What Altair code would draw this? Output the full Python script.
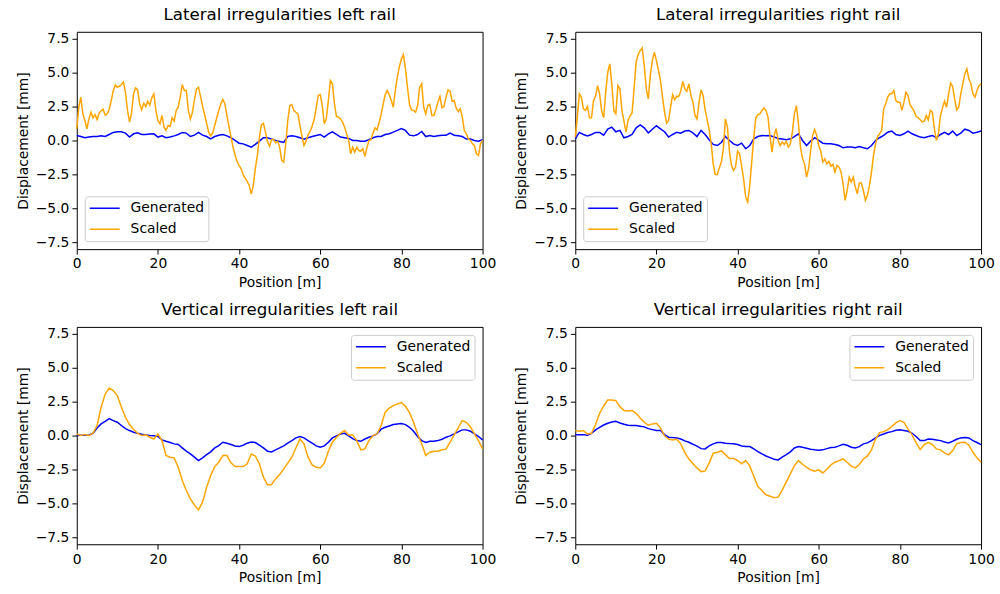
import altair as alt
import pandas as pd

# Sampling positions [m]
POS_HALF = [i / 2 for i in range(201)]
POS_ONE = list(range(101))

LAT_LEFT_SCALED = [
    0.86, 2.45, 3.19, 1.96, 1.47, 0.86, 1.59, 2.08, 1.67, 1.91,
    1.54, 2.01, 2.18, 2.30, 1.86, 1.96, 2.30, 2.94, 3.68, 4.09,
    3.92, 3.99, 4.12, 4.29, 3.55, 2.21, 1.35, 2.01, 3.43, 3.87,
    3.72, 2.70, 2.25, 2.74, 2.50, 2.89, 2.60, 3.16, 3.43, 2.21,
    1.47, 1.23, 1.84, 0.98, 0.74, 1.10, 1.03, 1.67, 1.42, 2.21,
    2.45, 3.19, 4.12, 3.68, 3.68, 2.21, 1.57, 2.08, 3.01, 3.80,
    3.92, 3.24, 2.52, 1.91, 1.27, 0.61, 0.34, 0.56, 1.10, 1.67,
    2.21, 2.70, 3.01, 2.70, 1.84, 1.03, 0.29, -0.49, -1.05, -1.54,
    -1.84, -2.08, -2.52, -2.77, -3.01, -3.31, -3.95, -3.31, -2.08, -1.10,
    0.20, 1.15, 1.27, 0.61, -0.07, -0.42, 0.05, 0.10, -0.17, -0.05,
    -0.49, -1.47, -1.59, -0.25, 1.47, 2.57, 2.65, 2.21, 2.08, 1.96,
    1.10, 0.29, -0.37, -0.05, 0.42, 0.66, 1.05, 1.54, 2.38, 3.31,
    3.38, 2.57, 1.23, 1.59, 2.94, 4.41, 4.17, 2.70, 1.76, 1.72,
    1.59, 1.35, 0.98, 0.49, 0.00, -0.98, -0.49, -0.86, -0.49, -0.74,
    -0.78, -0.61, -1.18, -0.54, 0.00, 0.05, 0.54, 0.93, 0.78, 1.30,
    1.91, 2.65, 3.36, 3.68, 3.38, 2.94, 2.45, 3.68, 4.66, 5.44,
    6.00, 6.32, 5.27, 3.92, 2.65, 2.25, 2.21, 2.08, 2.57, 3.92,
    4.17, 2.45, 1.96, 2.57, 2.65, 1.84, 1.84, 2.28, 2.82, 3.24,
    2.40, 2.50, 3.19, 3.72, 3.63, 2.89, 2.94, 2.40, 2.13, 2.33,
    1.76, 0.74, 0.49, 0.12, 0.00, -0.25, -0.37, -0.98, -1.10, -0.25,
    0.00,
]

LAT_LEFT_GENERATED = [
    0.37, 0.29, 0.20, 0.25, 0.29, 0.29, 0.34, 0.29, 0.44, 0.59,
    0.64, 0.64, 0.54, 0.25, 0.49, 0.56, 0.44, 0.44, 0.47, 0.49,
    0.25, 0.34, 0.20, 0.25, 0.34, 0.44, 0.59, 0.54, 0.29, 0.39,
    0.59, 0.39, 0.29, 0.12, 0.29, 0.39, 0.44, 0.34, 0.20, 0.00,
    -0.20, -0.25, -0.37, -0.49, -0.29, -0.05, 0.20, 0.20, 0.10, 0.00,
    -0.07, -0.15, 0.29, 0.34, 0.29, 0.20, 0.10, 0.20, 0.29, 0.37,
    0.44, 0.25, 0.49, 0.64, 0.44, 0.25, 0.20, 0.15, 0.00, 0.00,
    -0.05, -0.05, 0.05, 0.20, 0.29, 0.29, 0.44, 0.49, 0.61, 0.74,
    0.88, 0.74, 0.39, 0.34, 0.44, 0.66, 0.29, 0.37, 0.29, 0.34,
    0.39, 0.39, 0.54, 0.39, 0.34, 0.29, 0.10, 0.10, 0.00, -0.05,
    0.05,
]

LAT_RIGHT_SCALED = [
    0.25, 1.72, 3.43, 3.19, 2.33, 2.21, 2.50, 1.67, 1.67, 2.94,
    3.24, 4.04, 3.43, 2.16, 1.67, 3.55, 5.02, 5.64, 4.17, 2.21,
    1.96, 4.04, 3.80, 2.21, 1.42, 0.61, 1.47, 1.81, 2.03, 3.87,
    5.76, 6.32, 6.62, 6.81, 5.51, 3.80, 3.06, 4.85, 5.88, 6.50,
    5.88, 5.15, 4.41, 3.19, 2.08, 1.27, 1.47, 2.50, 3.38, 2.99,
    3.26, 3.24, 3.63, 4.34, 3.80, 3.63, 4.17, 3.31, 2.82, 1.84,
    1.59, 2.82, 3.73, 3.31, 2.25, 1.52, 0.78, -0.25, -1.72, -2.50,
    -2.50, -2.01, -1.59, -0.61, 1.59, 0.98, -0.86, -1.84, -2.21, -1.96,
    -0.78, -0.98, -1.91, -2.87, -4.17, -4.53, -3.31, -1.52, 0.25, 1.67,
    1.91, 1.96, 2.21, 2.40, 2.18, 1.72, 0.25, -0.86, 0.37, 0.86,
    0.00, -0.37, -0.12, -0.29, -0.05, -0.49, -0.25, 0.61, 1.96, 2.57,
    1.23, -0.49, -1.30, -1.72, -2.70, -2.08, -0.74, 0.37, 0.81, 0.37,
    -0.37, -0.78, -1.59, -1.35, -1.72, -1.54, -1.89, -1.76, -2.33, -1.84,
    -1.96, -2.33, -3.19, -4.41, -3.68, -2.70, -3.06, -2.70, -3.43, -3.92,
    -3.14, -3.14, -3.68, -4.41, -4.04, -3.31, -2.33, -1.10, -0.25, 0.29,
    0.49, 0.74, 2.33, 2.70, 3.19, 3.43, 3.43, 3.68, 2.94, 2.82,
    2.82, 2.21, 2.82, 3.55, 3.31, 2.65, 2.40, 2.16, 1.76, 1.67,
    1.52, 1.37, 1.42, 1.84, 1.52, 2.21, 2.08, 0.86, 0.00, 0.49,
    1.84, 2.40, 2.89, 2.45, 3.43, 4.22, 3.97, 3.06, 2.25, 2.45,
    3.43, 4.17, 4.90, 5.27, 4.53, 4.17, 3.43, 3.19, 3.68, 4.04,
    4.17,
]

LAT_RIGHT_GENERATED = [
    0.12, 0.59, 0.44, 0.34, 0.44, 0.59, 0.59, 0.39, 0.83, 0.98,
    0.64, 0.74, 0.20, 0.29, 0.44, 0.93, 1.15, 0.93, 0.56, 0.83,
    1.08, 0.86, 0.64, 0.25, 0.44, 0.61, 0.54, 0.69, 0.74, 0.56,
    0.29, 0.74, 0.44, 0.05, -0.29, -0.37, -0.15, 0.29, 0.00, -0.25,
    -0.37, -0.20, -0.61, -0.37, 0.12, 0.29, 0.37, 0.34, 0.37, 0.25,
    0.15, 0.10, 0.05, 0.12, 0.29, 0.49, 0.00, -0.37, -0.05, 0.20,
    0.00, -0.20, -0.25, -0.25, -0.29, -0.37, -0.54, -0.49, -0.49, -0.54,
    -0.44, -0.54, -0.61, -0.37, 0.00, 0.20, 0.37, 0.61, 0.69, 0.44,
    0.37, 0.49, 0.69, 0.49, 0.37, 0.25, 0.20, 0.29, 0.37, 0.20,
    0.44, 0.59, 0.44, 0.69, 0.37, 0.54, 0.83, 0.74, 0.54, 0.61,
    0.69,
]

VERT_LEFT_SCALED = [
    0.12, 0.00, 0.07, 0.00, 0.17, 0.74, 2.08, 3.06, 3.50, 3.31,
    2.94, 2.08, 1.35, 0.81, 0.44, 0.17, 0.00, 0.05, -0.12, -0.25,
    0.12, -0.37, -1.47, -1.59, -1.64, -2.33, -3.31, -4.04, -4.66, -5.10,
    -5.47, -4.90, -3.80, -2.94, -2.28, -1.96, -1.47, -1.47, -2.01, -2.28,
    -2.28, -2.28, -2.08, -1.35, -1.50, -2.08, -3.06, -3.63, -3.60, -3.19,
    -2.87, -2.45, -2.03, -1.59, -0.91, -0.25, -0.61, -1.59, -2.16, -2.33,
    -2.38, -2.03, -1.15, -0.49, -0.12, 0.17, 0.37, 0.05, 0.05, -0.37,
    -1.05, -0.98, -0.37, 0.00, 0.12, 0.74, 1.72, 2.03, 2.21, 2.33,
    2.43, 2.16, 1.69, 0.98, 0.12, -0.61, -1.47, -1.23, -1.15, -1.15,
    -1.05, -1.00, -0.49, 0.05, 0.56, 1.10, 0.98, 0.66, 0.12, -0.37,
    -0.98,
]

VERT_LEFT_GENERATED = [
    0.00, 0.02, 0.02, 0.05, 0.17, 0.56, 0.86, 1.05, 1.25, 1.10,
    0.98, 0.74, 0.51, 0.37, 0.25, 0.17, 0.10, 0.05, 0.00, -0.02,
    -0.07, -0.32, -0.42, -0.51, -0.61, -0.66, -0.91, -1.15, -1.35, -1.59,
    -1.84, -1.64, -1.40, -1.20, -0.91, -0.74, -0.49, -0.56, -0.66, -0.76,
    -0.81, -0.71, -0.56, -0.47, -0.51, -0.71, -0.91, -1.15, -1.20, -1.05,
    -0.91, -0.76, -0.56, -0.37, -0.17, -0.07, -0.17, -0.37, -0.56, -0.76,
    -0.86, -0.76, -0.49, -0.17, -0.02, 0.12, 0.17, -0.02, -0.22, -0.37,
    -0.42, -0.25, -0.12, -0.02, 0.12, 0.47, 0.61, 0.71, 0.81, 0.86,
    0.88, 0.81, 0.61, 0.32, -0.07, -0.37, -0.51, -0.42, -0.42, -0.37,
    -0.27, -0.12, -0.02, 0.12, 0.27, 0.42, 0.42, 0.32, 0.12, -0.07,
    -0.32,
]

VERT_RIGHT_SCALED = [
    0.37, 0.32, 0.37, 0.12, 0.17, 0.81, 1.64, 2.18, 2.62, 2.62,
    2.57, 2.13, 1.84, 1.81, 1.84, 1.64, 1.30, 0.98, 0.76, 0.86,
    0.91, 0.56, -0.02, -0.25, -0.32, -0.27, -0.61, -1.25, -1.72, -2.08,
    -2.38, -2.65, -2.60, -2.03, -1.30, -1.23, -1.13, -1.40, -1.69, -1.67,
    -1.84, -2.08, -1.84, -2.23, -3.01, -3.75, -4.04, -4.36, -4.46, -4.58,
    -4.53, -4.02, -3.41, -2.82, -2.21, -1.84, -2.11, -2.33, -2.52, -2.62,
    -2.52, -2.75, -2.48, -2.16, -1.96, -1.84, -1.72, -1.96, -2.25, -2.38,
    -2.13, -1.72, -1.50, -1.05, -0.25, 0.22, 0.29, 0.44, 0.66, 0.93,
    1.10, 0.98, 0.47, 0.05, -0.54, -1.03, -0.66, -0.51, -0.66, -0.98,
    -1.05, -1.27, -1.42, -1.10, -0.61, -0.51, -0.49, -0.71, -1.23, -1.64,
    -1.96,
]

VERT_RIGHT_GENERATED = [
    0.07, 0.07, 0.07, 0.02, 0.17, 0.42, 0.61, 0.78, 0.91, 1.00,
    1.05, 0.93, 0.83, 0.76, 0.74, 0.74, 0.69, 0.64, 0.51, 0.44,
    0.37, 0.37, 0.07, -0.12, -0.15, -0.17, -0.25, -0.39, -0.49, -0.64,
    -0.78, -0.96, -0.98, -0.76, -0.61, -0.51, -0.51, -0.56, -0.59, -0.61,
    -0.66, -0.76, -0.81, -0.81, -0.98, -1.18, -1.35, -1.50, -1.62, -1.74,
    -1.79, -1.59, -1.40, -1.20, -0.91, -0.81, -0.86, -0.93, -1.00, -1.05,
    -1.08, -1.05, -0.96, -0.88, -0.86, -0.76, -0.64, -0.71, -0.86, -0.91,
    -0.81, -0.61, -0.54, -0.37, -0.17, 0.02, 0.12, 0.22, 0.29, 0.39,
    0.42, 0.37, 0.32, 0.17, -0.07, -0.37, -0.37, -0.25, -0.27, -0.32,
    -0.37, -0.47, -0.54, -0.42, -0.27, -0.17, -0.15, -0.17, -0.37, -0.51,
    -0.66,
]

SERIES = ["Generated", "Scaled"]
COLORS = ["#0000ff", "#ffa500"]
X_TICKS = [0, 20, 40, 60, 80, 100]
Y_TICKS = [-7.5, -5.0, -2.5, 0.0, 2.5, 5.0, 7.5]
FONT = "DejaVu Sans"


def panel(title, pos_gen, gen, pos_sca, sca, legend_orient):
    df = pd.DataFrame({
        "Position": list(pos_gen) + list(pos_sca),
        "Displacement": list(gen) + list(sca),
        "Series": ["Generated"] * len(gen) + ["Scaled"] * len(sca),
    })
    return alt.Chart(df).mark_line(strokeWidth=1.5).encode(
        x=alt.X("Position:Q",
                scale=alt.Scale(domain=[0, 100], nice=False, zero=False),
                axis=alt.Axis(title="Position [m]", values=X_TICKS, format="d",
                              labelFlush=False)),
        y=alt.Y("Displacement:Q",
                scale=alt.Scale(domain=[-8, 8], nice=False),
                axis=alt.Axis(title="Displacement [mm]", values=Y_TICKS, format=".1f")),
        color=alt.Color("Series:N", title=None,
                        scale=alt.Scale(domain=SERIES, range=COLORS),
                        legend=alt.Legend(orient=legend_orient, symbolType="stroke",
                                          symbolStrokeWidth=1.5, symbolSize=900,
                                          labelFontSize=13.9, labelFont=FONT,
                                          labelColor="#000000", labelOffset=10,
                                          padding=4, offset=8, rowPadding=5,
                                          clipHeight=16,
                                          strokeColor="#cccccc", fillColor="white",
                                          cornerRadius=3)),
        order=alt.Order("Position:Q"),
    ).properties(
        width=407, height=218,
        title=alt.TitleParams(title, fontSize=16.7, font=FONT, fontWeight="normal",
                              offset=8, anchor="middle", frame="group", color="#000000"),
    )


p1 = panel("Lateral irregularities left rail", POS_ONE, LAT_LEFT_GENERATED,
           POS_HALF, LAT_LEFT_SCALED, "bottom-left")
p2 = panel("Lateral irregularities right rail", POS_ONE, LAT_RIGHT_GENERATED,
           POS_HALF, LAT_RIGHT_SCALED, "bottom-left")
p3 = panel("Vertical irregularities left rail", POS_ONE, VERT_LEFT_GENERATED,
           POS_ONE, VERT_LEFT_SCALED, "top-right")
p4 = panel("Vertical irregularities right rail", POS_ONE, VERT_RIGHT_GENERATED,
           POS_ONE, VERT_RIGHT_SCALED, "top-right")

chart = alt.concat(p1, p2, p3, p4, columns=2, spacing={"row": 10, "column": 17}).resolve_legend(
    color="independent"
).properties(
    padding={"left": 15, "top": 5, "right": 5, "bottom": 5},
    background="white",
).configure_view(
    stroke="#000000", strokeWidth=1,
).configure_axis(
    domain=False, grid=False, ticks=True, tickColor="#000000", tickSize=4.9, tickWidth=1,
    labelFont=FONT, labelFontSize=13.9, labelColor="#000000", labelPadding=3,
    titleFont=FONT, titleFontSize=13.9, titleFontWeight="normal", titleColor="#000000",
    titlePadding=5,
)

chart.save("out.html", embed_options={"renderer": "svg", "actions": False})
